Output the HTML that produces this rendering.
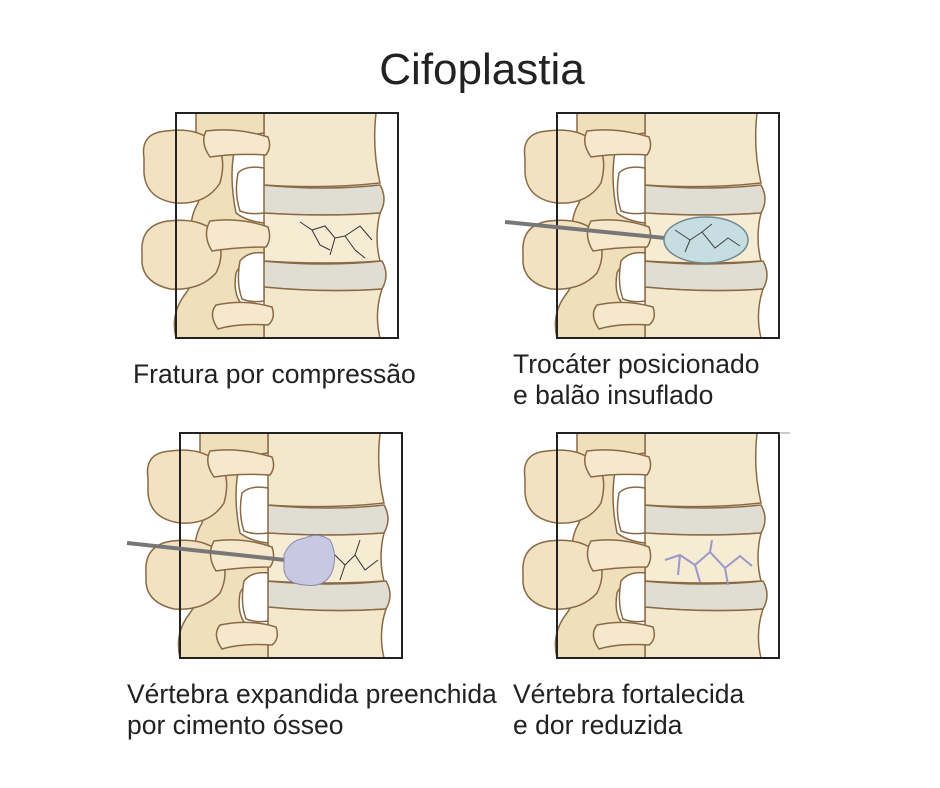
<!DOCTYPE html>
<html><head><meta charset="utf-8"><style>
html,body{margin:0;padding:0;background:#fff;}
body{width:940px;height:788px;overflow:hidden;position:relative;font-family:"Liberation Sans",sans-serif;}
.t{position:absolute;color:#222;font-size:26.5px;line-height:31px;white-space:nowrap;}
</style></head><body>
<svg width="940" height="788" style="position:absolute;left:0;top:0">
<defs>
<symbol id="sp" overflow="visible">
 <rect x="0" y="0" width="222" height="225" fill="#fff"/>
 <g stroke="#8a6a45" stroke-width="1.5">
  <path d="M88,0 H200 Q196,36 204,70 Q150,76 88,72 Z" fill="#f4e8cc"/>
  <path d="M86,72 Q150,78 204,72 Q212,86 204,100 Q150,104 86,100 Z" fill="#e0ddd3"/>
  <path d="M88,100 Q150,104 204,100 Q198,125 204,148 Q150,152 88,148 Z" fill="#f6ecd4"/>
  <path d="M86,148 Q150,154 206,148 Q214,162 206,176 Q150,180 86,174 Z" fill="#e0ddd3"/>
  <path d="M88,174 Q150,180 206,176 Q198,200 204,225 H88 Z" fill="#f4e8cc"/>
  <path d="M20,0 H88 V20 Q70,22 60,30 Q52,60 60,100 Q70,108 88,110 V150 Q66,146 60,160 Q56,185 70,195 Q80,198 88,200 V225 H0 Q-6,200 10,180 Q24,160 18,140 Q10,110 22,90 Q34,60 20,30 Z" fill="#efdfbb"/>
  <path d="M88,55 Q70,52 62,60 Q58,80 64,98 Q74,102 88,100 Z" fill="#fff"/>
  <path d="M88,140 Q72,138 64,148 Q60,170 66,186 Q76,190 88,188 Z" fill="#fff"/>
  <path d="M-32,45 Q-36,20 -10,18 Q20,14 36,28 Q52,40 44,70 Q30,92 0,90 Q-30,86 -32,60 Z" fill="#f2e2c2"/>
  <path d="M-34,140 Q-36,112 -8,108 Q24,104 40,120 Q50,140 40,160 Q24,178 -6,176 Q-32,170 -34,150 Z" fill="#f2e2c2"/>
  <path d="M30,18 Q60,14 92,24 Q96,34 90,42 Q60,40 34,44 Q24,30 30,18 Z" fill="#f5e8cc"/>
  <path d="M34,108 Q64,104 92,114 Q96,126 90,134 Q62,134 36,138 Q26,122 34,108 Z" fill="#f5e8cc"/>
  <path d="M40,192 Q70,186 96,194 Q100,206 92,212 Q62,210 42,216 Q32,202 40,192 Z" fill="#f5e8cc"/>
 </g>
 <rect x="0" y="0" width="222" height="225" fill="none" stroke="#222" stroke-width="2"/>
</symbol>
</defs>
<use href="#sp" x="176" y="113"/>
<use href="#sp" x="557" y="113"/>
<use href="#sp" x="180" y="433"/>
<use href="#sp" x="557" y="433"/>
<g stroke="#333" stroke-width="1" fill="none">
 <path d="M300,222 L312,230 L320,245 L330,250 M312,230 L325,226 L335,238 L345,236 L355,250 M335,238 L330,255 M345,236 L360,226 L372,240 M355,250 L365,258"/>
</g>
<line x1="505" y1="222" x2="665" y2="238" stroke="#777" stroke-width="4"/>
<ellipse cx="706" cy="240" rx="42" ry="23" fill="#c6dde2" stroke="#6e8a90" stroke-width="1.5"/>
<path d="M675,230 L690,240 L702,232 L715,248 L728,238 L740,246 M702,232 L712,224 M690,240 L685,252" stroke="#444" fill="none"/>
<line x1="127" y1="543" x2="285" y2="560" stroke="#777" stroke-width="4"/>
<path d="M284,555 Q290,540 305,538 Q318,532 330,540 Q338,555 332,572 Q325,588 305,585 Q286,584 284,570 Z" fill="#c9c8e2" stroke="#8a88b0"/>
<path d="M335,555 L345,565 L355,555 L365,570 L378,560 M345,565 L340,580 M355,555 L360,540" stroke="#333" fill="none"/>
<path d="M665,560 L680,555 L695,565 L710,552 L725,568 L740,556 L752,566 M680,555 L678,575 M695,565 L700,582 M725,568 L728,585 M710,552 L712,540" stroke="#9a98c8" stroke-width="2" fill="none"/>
<line x1="779" y1="433" x2="790" y2="433" stroke="#999"/>
<text x="482" y="84" font-family="Liberation Sans, sans-serif" font-size="44" fill="#222" text-anchor="middle">Cifoplastia</text>
</svg>
<div class="t" style="left:133px;top:359px">Fratura por compressão</div>
<div class="t" style="left:513px;top:349px">Trocáter posicionado<br>e balão insuflado</div>
<div class="t" style="left:127px;top:679px">Vértebra expandida preenchida<br>por cimento ósseo</div>
<div class="t" style="left:513px;top:679px">Vértebra fortalecida<br>e dor reduzida</div>
</body></html>
